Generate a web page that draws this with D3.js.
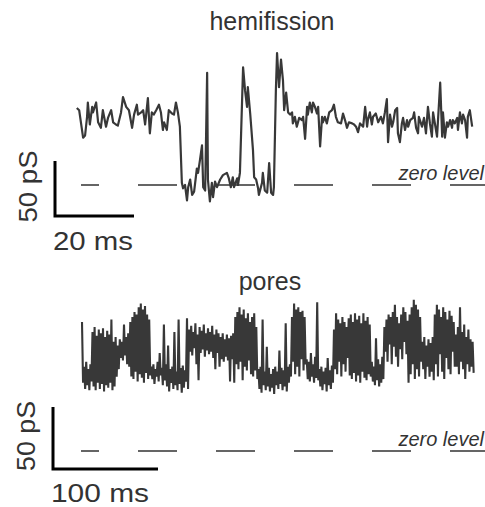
<!DOCTYPE html>
<html>
<head>
<meta charset="utf-8">
<script src="https://d3js.org/d3.v7.min.js"></script>
<style>
  body { margin: 0; background: #fff; }
  text { font-family: "Liberation Sans", Arial, sans-serif; fill: #333; }
</style>
</head>
<body>
<svg id="chart" width="485" height="507"></svg>
<script>
// Data
//------------------------------------
// hemifission trace: time (ms) and conductance (pS)
var hemiTime = [
  0.2, 0.8, 1.8, 2.3, 2.8, 3.0, 3.5, 4.1, 4.3, 5.1, 5.6, 6.3, 6.8, 7.6, 8.1, 8.9, 9.4, 10.1, 10.6, 11.4,
  11.9, 12.7, 13.4, 14.2, 14.7, 15.4, 15.7, 16.5, 17.0, 17.5, 18.2, 18.7, 19.2, 19.7, 20.3, 21.0, 21.5, 22.0, 22.3, 23.0,
  23.5, 24.3, 24.8, 25.3, 25.8, 26.3, 26.8, 27.1, 27.6, 28.1, 28.4, 28.9, 29.4, 29.9, 30.6, 30.9, 31.4, 31.9, 32.2, 32.7,
  33.2, 33.4, 33.9, 34.4, 34.7, 35.2, 35.7, 36.5, 37.2, 38.2, 38.7, 39.2, 39.7, 40.0, 40.8, 41.0, 41.5, 42.0, 42.3, 42.8,
  43.3, 43.5, 44.1, 44.8, 45.1, 45.6, 46.1, 46.3, 47.1, 47.3, 47.8, 48.4, 48.9, 49.4, 49.9, 50.1, 50.6, 50.9, 51.4, 51.9,
  52.4, 52.7, 53.2, 53.7, 54.2, 54.7, 54.9, 55.4, 55.9, 56.5, 57.2, 57.5, 58.0, 58.5, 58.7, 59.2, 59.7, 60.0, 60.5, 61.0,
  61.3, 61.8, 62.3, 62.5, 63.0, 63.5, 64.1, 64.8, 65.3, 65.8, 66.3, 67.1, 67.6, 68.1, 68.6, 69.1, 69.9, 70.4, 70.9, 71.4,
  71.9, 72.7, 73.2, 73.7, 73.9, 74.4, 74.9, 75.2, 75.9, 76.5, 77.2, 77.7, 78.2, 78.7, 79.0, 79.5, 80.0, 80.3, 80.8, 81.3,
  81.5, 82.0, 82.5, 82.8, 83.3, 83.8, 84.1, 84.6, 85.3, 85.6, 86.1, 86.6, 86.8, 87.6, 88.1, 88.6, 89.1, 89.6, 90.1, 90.4,
  90.9, 91.4, 91.6, 92.2, 92.7, 92.9, 93.4, 93.9, 94.2, 94.7, 95.2, 95.4, 95.9, 96.5, 96.7, 97.2, 97.7, 98.0, 98.5, 99.0,
  99.2, 99.7, 100.3
];
var hemiCurrent = [
  70, 68, 43, 45, 62, 75, 55, 71, 66, 75, 57, 52, 68, 53, 61, 68, 57, 55, 54, 66,
  80, 71, 68, 52, 64, 73, 64, 66, 68, 55, 79, 47, 66, 64, 68, 73, 66, 50, 57, 50,
  68, 65, 64, 75, 66, 53, 2, -3, 0, -14, -2, 5, -9, -6, 15, 11, 23, 36, -2, -5,
  102, 5, -15, 2, -11, 3, -2, 5, 9, 11, 6, -2, 7, -2, 6, 0, 11, 71, 107, 86,
  71, 89, 65, 32, 7, 5, -3, -9, 2, 11, -5, -7, 20, -7, -9, -2, 86, 120, 89, 114,
  95, 68, 84, 66, 64, 66, 56, 62, 53, 61, 59, 62, 42, 71, 64, 75, 66, 75, 71, 65,
  71, 35, 62, 57, 62, 56, 66, 68, 73, 62, 57, 56, 65, 59, 52, 57, 56, 55, 53, 48,
  56, 53, 71, 53, 59, 66, 55, 62, 65, 57, 62, 56, 66, 78, 39, 64, 53, 57, 68, 70,
  47, 39, 56, 61, 50, 59, 53, 59, 61, 66, 52, 47, 62, 53, 61, 47, 71, 56, 44, 66,
  55, 44, 56, 93, 44, 66, 43, 57, 53, 59, 52, 59, 56, 61, 50, 66, 56, 64, 59, 43,
  62, 68, 53
];

// pores trace: sampled every 2 ms, upper and lower excursion (pS) within each sample
var poreStep = 2;
var poreHigh = [
  104, 68, 72, 66, 70,
  96, 100, 93, 98, 95, 99, 92, 97, 94,
  106, 88, 92, 85,
  90, 88, 102, 92, 95,
  104, 108, 112, 110, 116, 119, 114, 117, 110, 106,
  68, 70, 66, 72, 79, 67, 102,
  70, 85, 66, 68, 96, 64, 106, 67, 69, 65, 107,
  98, 101, 96, 103, 94, 100, 97, 102, 95, 99, 96, 101, 94, 98, 95,
  92, 95, 90, 94, 91, 93, 95,
  108, 112, 116, 110, 114, 107, 111,
  104, 108, 111, 100,
  66, 68, 106, 64, 84, 67, 62, 66, 68, 64, 81, 67, 65, 103, 68, 70,
  108, 119, 114, 116, 112, 113, 108,
  74, 72, 79, 70, 76,
  120,
  66, 68, 64, 67, 75, 65, 69,
  98, 111, 106, 103, 108, 104, 100, 107,
  110, 104, 111, 106, 109, 103, 111, 105, 108, 102,
  72, 68, 91, 74, 70, 76,
  100, 106, 110, 108, 112, 118, 108, 103, 110, 116, 112, 105,
  110, 116, 122, 118, 114, 108,
  88, 92, 85, 90, 87, 92,
  110, 118, 114, 108, 116, 112, 106, 113, 109, 104,
  94, 100, 116, 96, 102, 92, 98, 90, 88
];
var poreLow = [
  55, 50, 53, 49, 56,
  52, 49, 55, 50, 54, 48, 53, 51, 55,
  49, 52, 60, 66,
  75, 73, 77, 70, 68,
  60, 58, 64, 56, 62, 59, 55, 63, 58, 61,
  58, 54, 60, 56, 61, 53, 57,
  52, 48, 55, 50, 53, 49, 54, 47, 51, 56, 50,
  80, 77, 83, 70, 57, 79, 82, 76, 81, 78, 80, 75, 66, 79, 68,
  74, 72, 76, 73, 56, 74, 55,
  70, 66, 72, 57, 68, 65, 73,
  62, 60, 65, 58,
  50, 47, 53, 49, 52, 48, 51, 46, 53, 50, 54, 49, 52, 48, 55, 60,
  72, 62, 68, 60, 74, 65, 70,
  58, 56, 60, 55, 59,
  57,
  52, 49, 54, 48, 53, 50, 55,
  66, 62, 72, 60, 70, 64, 75, 61,
  58, 63, 56, 61, 55, 64, 59, 57, 62, 60,
  56, 53, 57, 52, 55, 58,
  80, 72, 86, 70, 84, 76, 68, 82, 74, 88, 78, 55,
  62, 70, 58, 66, 60, 72,
  66, 58, 68, 60, 64, 57,
  70, 60, 78, 64, 58, 75, 66, 62, 80, 68,
  68, 62, 72, 66, 58, 70, 64, 68, 63
];

// scale bars
var hemiBar = { ms: 20, pS: 50 };
var poreBar = { ms: 100, pS: 50 };
//------------------------------------

var svg = d3.select("#chart");
var ink = "#383838";

// scales (ms -> px, pS -> px)
var xHemi = d3.scaleLinear().domain([0, 100]).range([76, 471]);
var yHemi = d3.scaleLinear().domain([0, 50]).range([185, 130]);
var xPore = d3.scaleLinear().domain([0, 100]).range([82, 187]);
var yPore = d3.scaleLinear().domain([0, 50]).range([451, 389]);

// titles
svg.append("text").attr("x", 272).attr("y", 30).attr("text-anchor", "middle")
    .style("font-size", "25px").text("hemifission");
svg.append("text").attr("x", 270).attr("y", 290).attr("text-anchor", "middle")
    .style("font-size", "25px").text("pores");

// zero level dashes + label
function zeroLevel(yScale) {
    var y0 = yScale(0);
    svg.append("line")
        .attr("x1", 81).attr("x2", 485).attr("y1", y0).attr("y2", y0)
        .attr("stroke", "#333").attr("stroke-width", 1.5)
        .attr("stroke-dasharray", "39,39").attr("stroke-dashoffset", 21);
    svg.append("text").attr("x", 484).attr("y", y0 - 5).attr("text-anchor", "end")
        .style("font-size", "20px").style("font-style", "italic").text("zero level");
}
zeroLevel(yHemi);
zeroLevel(yPore);

// hemifission trace
var hemiData = hemiTime.map(function (t, i) { return [t, hemiCurrent[i]]; });
svg.append("path").datum(hemiData)
    .attr("fill", "none").attr("stroke", ink).attr("stroke-width", 2.2).attr("stroke-linejoin", "round")
    .attr("d", d3.line().x(function (d) { return xHemi(d[0]); }).y(function (d) { return yHemi(d[1]); }));

// pores trace: each sample swings up then down
var poreData = [];
for (var i = 0; i < poreHigh.length; i++) {
    poreData.push([i * poreStep, poreHigh[i]]);
    poreData.push([i * poreStep + poreStep / 2, poreLow[i]]);
}
svg.append("path").datum(poreData)
    .attr("fill", "none").attr("stroke", ink).attr("stroke-width", 2.1)
    .attr("d", d3.line().x(function (d) { return xPore(d[0]); }).y(function (d) { return yPore(d[1]); }));

// scale bars
function scaleBar(cx, cy, xScale, yScale, bar, msLabelY, pSLabelX, msWidth, pSWidth) {
    var w = xScale(bar.ms) - xScale(0);
    var h = yScale(0) - yScale(bar.pS);
    svg.append("path")
        .attr("d", "M" + cx + "," + (cy - h) + "V" + cy + "H" + (cx + w))
        .attr("fill", "none").attr("stroke", "#000").attr("stroke-width", 3);
    svg.append("text").attr("x", cx - 2).attr("y", msLabelY)
        .attr("textLength", msWidth).attr("lengthAdjust", "spacingAndGlyphs")
        .style("font-size", "26px").text(bar.ms + " ms");
    svg.append("text")
        .attr("transform", "translate(" + pSLabelX + "," + (cy - h / 2 - 2) + ") rotate(-90)")
        .attr("text-anchor", "middle")
        .attr("textLength", pSWidth).attr("lengthAdjust", "spacingAndGlyphs")
        .style("font-size", "26px").text(bar.pS + " pS");
}
scaleBar(55, 216, xHemi, yHemi, hemiBar, 250, 37, 80, 72);
scaleBar(53, 469, xPore, yPore, poreBar, 502, 35, 98, 70);
</script>
</body>
</html>
